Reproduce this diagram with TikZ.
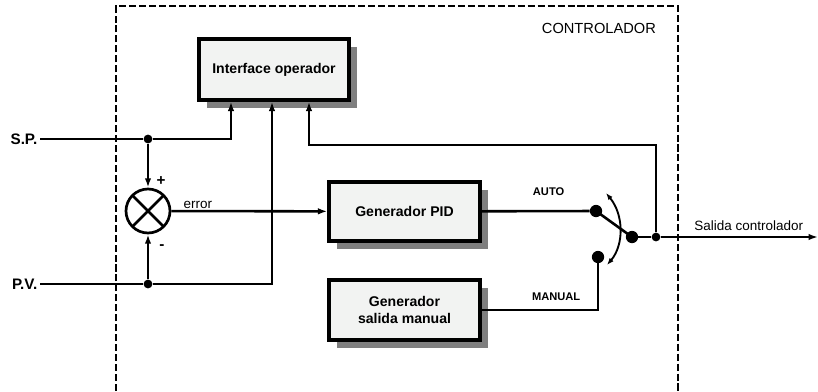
\documentclass[tikz,border=0pt]{standalone}
\usepackage{fontspec}
\setmainfont{Liberation Sans}
\usetikzlibrary{arrows.meta,shadows}

\definecolor{boxgray}{HTML}{F2F3F2}
\definecolor{shadowgray}{HTML}{7F7F7F}

\begin{document}
\begin{tikzpicture}[
    x=0.03cm, y=-0.03cm,
    >={Latex[length=8pt,width=5.5pt]},
    block/.style={rectangle, draw, line width=2.8pt, fill=boxgray, align=center, inner sep=0pt,
      font=\fontsize{12}{15}\selectfont\bfseries,
      drop shadow={shadow xshift=0.24cm, shadow yshift=-0.24cm, fill=shadowgray, opacity=1}},
    wire/.style={line width=2.2pt},
    dot/.style={circle, fill, inner sep=0pt, minimum size=7.5pt},
    contact/.style={circle, fill, inner sep=0pt, minimum size=10.5pt},
    sum/.style={circle, draw, line width=2.3pt, minimum size=1.32cm, inner sep=0pt,
      path picture={\draw[line width=2.3pt] (path picture bounding box.north west) -- (path picture bounding box.south east)
        (path picture bounding box.north east) -- (path picture bounding box.south west);}},
    signal/.style={font=\fontsize{13}{15}\selectfont\bfseries, inner sep=2pt},
    tag/.style={font=\fontsize{9.5}{11}\selectfont\bfseries, inner sep=0pt},
    note/.style={font=\fontsize{11.5}{13}\selectfont, inner sep=1pt}
  ]
  \useasboundingbox (0,0) rectangle (818,391);

  % controller frame
  \draw[line width=1.4pt, dash pattern=on 6pt off 2.5pt] (116,391) |- (678,6) -- (678,391);
  \node[anchor=east, font=\fontsize{12.5}{14}\selectfont] (ctrl) at (660,28) {CONTROLADOR};

  % blocks
  \node[block, minimum width=4.5cm, minimum height=1.83cm] (iface) at (274,69.5) {Interface operador};
  \node[block, minimum width=4.53cm, minimum height=1.77cm] (pid) at (404.5,211.5) {Generador PID};
  \node[block, minimum width=4.53cm, minimum height=1.8cm] (man) at (404.5,310) {Generador\\salida manual};

  % inputs and comparator
  \node[signal, anchor=east] (sp) at (40,139) {S.P.};
  \node[signal, anchor=east] (pv) at (40,284) {P.V.};
  \node[sum] (sum) at (148,211) {};
  \node[dot] (spj) at (148,139) {};
  \node[dot] (pvj) at (148,284) {};
  \node[font=\fontsize{13}{14}\selectfont\bfseries] (plus) at (161,181) {+};
  \node[font=\fontsize{13}{14}\selectfont\bfseries] (minus) at (162,247) {-};

  % switch
  \node[contact] (auto) at (596,211) {};
  \node[contact] (manual) at (598,257) {};
  \node[contact] (pivot) at (632,237) {};
  \node[dot] (outj) at (656,237) {};
  \coordinate (out) at (818,237);
  \coordinate (fb) at (309,145);
  \coordinate (swtop) at (606,193);
  \coordinate (swbot) at (607,265);

  \draw[wire,->] (sp) -- (spj) -| ([xshift=-1.29cm]iface.south);
  \draw[wire,->] (pv) -- (pvj) -| ([xshift=-0.06cm]iface.south);
  \draw[wire,->] (spj) -- (sum);
  \draw[wire,->] (pvj) -- (sum);
  \draw[wire,->] (sum) -- node[note, above, pos=0.17] {error} (pid);
  \draw[wire] (pid) -- node[tag, above=12pt, pos=0.62] {AUTO} (auto);
  \draw[wire] (man) -| node[tag, above=7pt, pos=0.32] {MANUAL} (manual);
  \draw[wire] (auto.center) -- (pivot.center);
  \draw[wire] (pivot) -- (outj);
  \draw[wire,->] (outj) -- node[note, above=3pt, pos=0.56] {Salida controlador} (out);
  \draw[wire,->] (outj) |- (fb) -- (fb |- iface.south);
  \draw[line width=1.6pt, <->, >={Latex[length=6pt,width=4.5pt]}] (swtop) .. controls (624,215) and (624,245) .. (swbot);

\end{tikzpicture}
\end{document}
